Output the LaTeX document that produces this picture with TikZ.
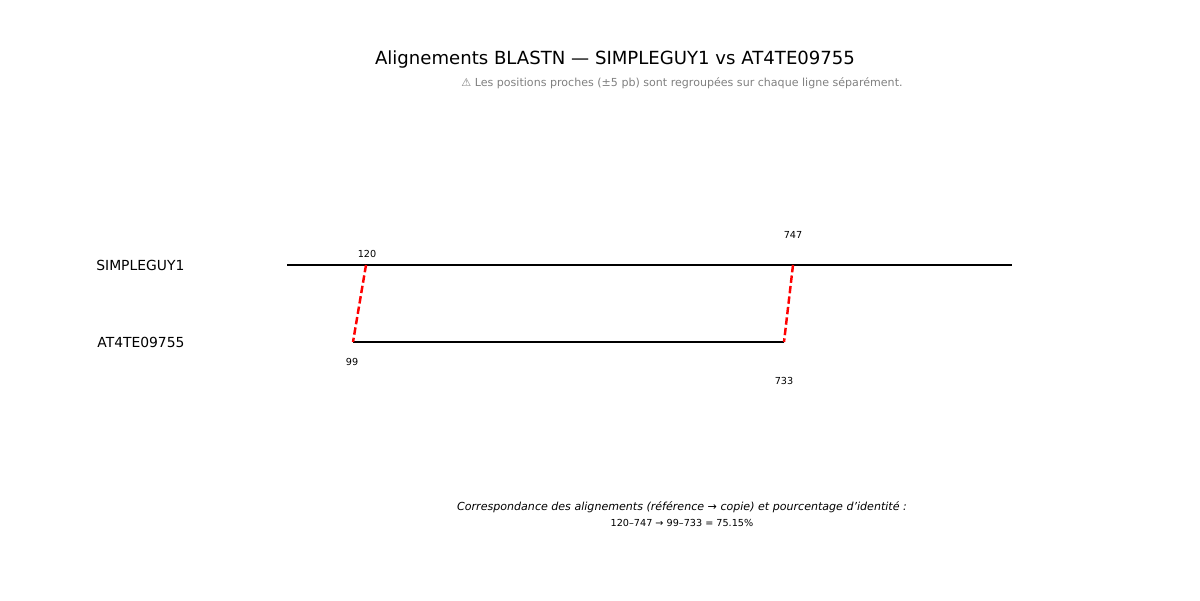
\documentclass[tikz,border=0pt]{standalone}
\usepackage{fontspec}
\setmainfont{DejaVu Sans}
\begin{document}
\begin{tikzpicture}[x=0.02cm,y=-0.02cm,
  seq/.style={line width=1.45pt,black},
  link/.style={line width=1.4pt,red,dash pattern=on 4.2pt off 1.8pt},
  poslbl/.style={font=\fontsize{5.5}{6.5}\selectfont,inner sep=0pt},
  lbl/.style={font=\fontsize{7.9}{9.5}\selectfont,inner sep=0pt,anchor=west}]
\useasboundingbox (0,0) rectangle (1200,600);
\node[inner sep=0pt,font=\fontsize{10.3}{12}\selectfont] (title) at (615,59) {Alignements BLASTN — SIMPLEGUY1 vs AT4TE09755};
\node[inner sep=0pt,text=gray,font=\fontsize{6.3}{7.5}\selectfont] (sub) at (682,83.5) {⚠ Les positions proches (±5 pb) sont regroupées sur chaque ligne séparément.};
\node[lbl] (n1) at (96,265) {SIMPLEGUY1};
\node[lbl] (n2) at (97,342) {AT4TE09755};
\coordinate (a0) at (287,265);
\coordinate (a1) at (1012,265);
\coordinate (b0) at (353,342);
\coordinate (b1) at (784,342);
\coordinate (s1) at (366,265);
\coordinate (s2) at (793,265);
\draw[seq] (a0) -- (a1);
\draw[seq] (b0) -- (b1);
\draw[link] (s1) -- (b0);
\draw[link] (s2) -- (b1);
\node[poslbl] (p120) at (367,254) {120};
\node[poslbl] (p747) at (793,235) {747};
\node[poslbl] (p99) at (352,362) {99};
\node[poslbl] (p733) at (784,381) {733};
\node[inner sep=0pt,font=\itshape\fontsize{6.3}{7.5}\selectfont] (cap) at (682,507.5) {Correspondance des alignements (référence → copie) et pourcentage d{\char"0027}identité :};
\node[inner sep=0pt,font=\fontsize{5.5}{6.5}\selectfont] (res) at (682,523) {120–747 → 99–733 = 75.15\%};
\end{tikzpicture}
\end{document}
